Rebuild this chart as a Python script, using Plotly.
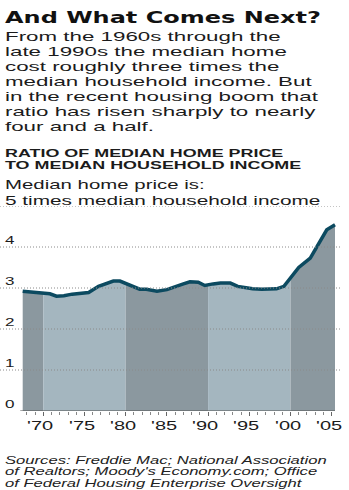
import json
import plotly.graph_objects as go

# Ratio of median home price to median household income
YEARS = [1967.5, 1968, 1969, 1970, 1970.8, 1971.6, 1972.5, 1973.5, 1974.5, 1975.5,
         1976.7, 1977.5, 1978.5, 1979.3, 1980, 1981, 1981.7, 1982.5, 1983.8, 1985,
         1986, 1987, 1987.8, 1988.8, 1989.6, 1990, 1990.6, 1991.5, 1992.7, 1993.6,
         1995.4, 1996.5, 1998.3, 1999.2, 2000, 2001, 2002.4, 2003.6, 2004.4, 2005.4]
RATIO = [2.92, 2.91, 2.89, 2.88, 2.86, 2.80, 2.81, 2.85, 2.88, 2.89,
         3.04, 3.10, 3.17, 3.17, 3.11, 3.01, 2.97, 2.97, 2.92, 2.96,
         3.04, 3.10, 3.15, 3.14, 3.06, 3.08, 3.10, 3.12, 3.12, 3.04,
         2.98, 2.97, 2.98, 3.04, 3.25, 3.50, 3.73, 4.15, 4.42, 4.54]

DECADE_EDGES = [1970, 1980, 1990, 2000]
X_MAJOR = [1970, 1975, 1980, 1985, 1990, 1995, 2000, 2005]
X_LABELS = ["'70", "'75", "'80", "'85", "'90", "'95", "'00", "'05"]
X_MINOR = [y for y in range(1968, 2006) if y % 5]
Y_TICKS = [0, 1, 2, 3, 4]
Y_GRID = [1, 2, 3, 4, 5]

HEADLINE = "And What Comes Next?"
BODY = ["From the 1960s through the",
        "late 1990s the median home",
        "cost roughly three times the",
        "median household income. But",
        "in the recent housing boom that",
        "ratio has risen sharply to nearly",
        "four and a half."]
CHART_TITLE = ["RATIO OF MEDIAN HOME PRICE", "TO MEDIAN HOUSEHOLD INCOME"]
UNIT = ["Median home price is:", "5 times median household income"]
SOURCE = ["Sources: Freddie Mac; National Association",
          "of Realtors; Moody's Economy.com; Office",
          "of Federal Housing Enterprise Oversight"]

W, H = 349, 490
M_L, M_R, M_T, M_B = 0, 9, 206, 79
PLOT_W = W - M_L - M_R
PLOT_H = H - M_T - M_B

DARK = "#8b989f"
LIGHT = "#a4b6bf"
LINE = "#0c4a60"
INK = "#1b1b1b"
SANS = "Liberation Sans, Arial, sans-serif"


def py(pixel_y):
    """Page pixel row -> paper y."""
    return (H - M_B - pixel_y) / PLOT_H


def px(pixel_x):
    return (pixel_x - M_L) / PLOT_W


fig = go.Figure()

# alternating decade bands under the curve
bounds = [YEARS[0]] + DECADE_EDGES + [YEARS[-1]]
for i in range(len(bounds) - 1):
    a, b = bounds[i], bounds[i + 1]
    xs = [x for x in YEARS if a <= x <= b]
    ys = [v for x, v in zip(YEARS, RATIO) if a <= x <= b]
    fig.add_trace(go.Scatter(x=xs, y=ys, mode="lines", fill="tozeroy",
                             fillcolor=DARK if i % 2 == 0 else LIGHT,
                             line=dict(width=0), hoverinfo="skip",
                             showlegend=False))

# dotted gridlines over the bands
for g in Y_GRID:
    fig.add_shape(type="line", xref="paper", yref="y", x0=0, x1=1, y0=g, y1=g,
                  line=dict(color="#8a8a8a", width=1, dash="1px,2px"),
                  layer="above")

fig.add_trace(go.Scatter(x=YEARS, y=RATIO, mode="lines",
                         line=dict(color=LINE, width=3.5),
                         showlegend=False))

# baseline
fig.add_shape(type="line", xref="x", yref="y", x0=YEARS[0] - 0.3, x1=YEARS[-1],
              y0=0, y1=0, line=dict(color="#555555", width=1.2), layer="above")

annotations = []
scales = []


def text(s, x, y, size, family=SANS, weight="normal", style="normal",
         color=INK, xref="paper", yref="paper", xanchor="left", yshift=0,
         xshift=0, scale=1.58):
    annotations.append(dict(text=s, x=x, y=y, xref=xref, yref=yref,
                            xanchor=xanchor, yanchor="middle",
                            align="left" if xanchor == "left" else "center",
                            showarrow=False, yshift=yshift, xshift=xshift,
                            borderpad=0,
                            font=dict(family=family, size=size, color=color,
                                      weight=weight, style=style)))
    scales.append(scale)


text(HEADLINE, px(4), py(17.5), 15, family="DejaVu Sans", weight="bold",
     color="#111111", scale=1.6)
for i, line in enumerate(BODY):
    text(line, px(4), py(36.5 + 15 * i), 13, scale=1.72)
for i, line in enumerate(CHART_TITLE):
    text(line, px(4), py(152.5 + 12.5 * i), 11, weight="bold", scale=1.63)
text(UNIT[0], px(4), py(184.7), 13, scale=1.57)
text(UNIT[1], px(4), py(200), 13, scale=1.6)
for i, line in enumerate(SOURCE):
    text(line, px(4), py(460 + 11.5 * i), 10.2, style="italic",
         color="#222222", scale=1.63)
for v in Y_TICKS:
    text(str(v), px(4), v, 11, xref="paper", yref="y", yshift=7, scale=1.55)
for x, lab in zip(X_MAJOR, X_LABELS):
    text(lab, x, 0, 12.5, xref="x", yref="paper", xanchor="center",
         yshift=-15, xshift=-3, scale=1.6)

fig.update_layout(
    width=W, height=H,
    margin=dict(l=M_L, r=M_R, t=M_T, b=M_B),
    paper_bgcolor="white", plot_bgcolor="white",
    showlegend=False,
    annotations=annotations,
    xaxis=dict(range=[1964.745, 2006.007], showgrid=False, zeroline=False,
               showline=False, tickmode="array", tickvals=X_MAJOR,
               showticklabels=False, ticks="outside", ticklen=4,
               tickcolor="#666666", tickwidth=1, fixedrange=True,
               minor=dict(tickmode="array", tickvals=X_MINOR, ticks="outside",
                          ticklen=3, tickcolor="#888888", tickwidth=1)),
    yaxis=dict(range=[0, 5], showgrid=False, zeroline=False, showline=False,
               showticklabels=False, fixedrange=True),
)

# widen the lettering horizontally, keeping each label's anchor edge fixed
post = """
var gd = document.getElementById('{plot_id}');
var k = %s;
gd.querySelectorAll('g.annotation').forEach(function(g){
  var i = +g.getAttribute('data-index');
  var t = g.querySelector('text.annotation-text');
  if(!t) return;
  var a = t.getAttribute('text-anchor') || 'start';
  t.style.transformBox = 'fill-box';
  t.style.transformOrigin = a === 'middle' ? 'center' : (a === 'end' ? 'right' : 'left');
  t.style.transform = 'scaleX(' + k[i] + ')';
});
""" % json.dumps(scales)

fig.write_html("out.html", post_script=post, config={"displayModeBar": False})
